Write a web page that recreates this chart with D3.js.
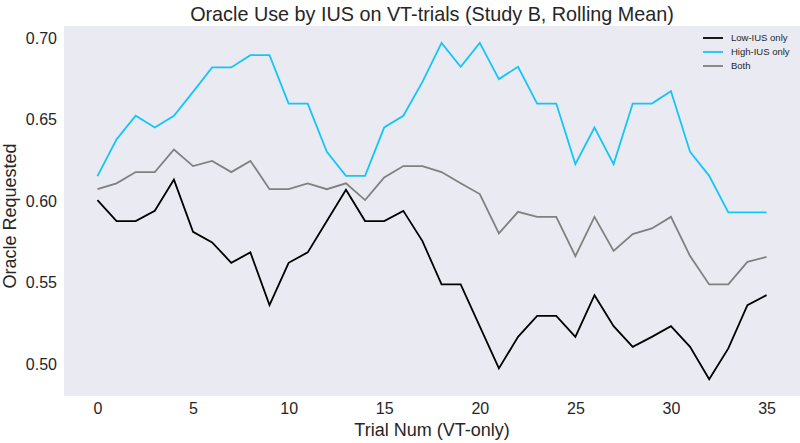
<!DOCTYPE html>
<html>
<head>
<meta charset="utf-8">
<script src="https://cdn.jsdelivr.net/npm/d3@7"></script>
<style>
    body { margin: 0; background: #fff; }
    svg { display: block; font-family: 'Liberation Sans', Arial, sans-serif; }
</style>
</head>
<body>
<div class="js-chart"></div>
<script>
'use strict';

// trial index 0..35
const trials = d3.range(0, 36);

const lowIUS = [0.6007, 0.5878, 0.5878, 0.5941, 0.6133, 0.5812, 0.5747, 0.5622, 0.5686, 0.5362,
    0.5622, 0.5686, 0.5878, 0.6070, 0.5878, 0.5878, 0.5941, 0.5755, 0.5489, 0.5489,
    0.5231, 0.4973, 0.5167, 0.5296, 0.5296, 0.5167, 0.5423, 0.5233, 0.5106, 0.5167,
    0.5233, 0.5106, 0.4907, 0.5096, 0.5362, 0.5423];

const highIUS = [0.6154, 0.6380, 0.6525, 0.6453, 0.6525, 0.6672, 0.6822, 0.6822, 0.6897, 0.6897,
    0.6600, 0.6600, 0.6303, 0.6156, 0.6156, 0.6453, 0.6525, 0.6733, 0.6973, 0.6826,
    0.6973, 0.6750, 0.6826, 0.6600, 0.6600, 0.6228, 0.6453, 0.6228, 0.6600, 0.6600,
    0.6676, 0.6303, 0.6156, 0.5931, 0.5931, 0.5931];

const both = [0.6074, 0.6110, 0.6179, 0.6179, 0.6318, 0.6216, 0.6248, 0.6179, 0.6248, 0.6074,
    0.6074, 0.6110, 0.6074, 0.6110, 0.6007, 0.6146, 0.6216, 0.6216, 0.6179, 0.6110,
    0.6044, 0.5802, 0.5935, 0.5904, 0.5904, 0.5663, 0.5904, 0.5695, 0.5798, 0.5833,
    0.5904, 0.5663, 0.5489, 0.5489, 0.5628, 0.5658];

const xTicks = [0, 5, 10, 15, 20, 25, 30, 35];
const yTicks = [0.50, 0.55, 0.60, 0.65, 0.70];

const series = [
    { name: 'Low-IUS only', values: lowIUS, color: '#000000' },
    { name: 'High-IUS only', values: highIUS, color: '#13c6fa' },
    { name: 'Both', values: both, color: '#808080' }
];

const width = 800;
const height = 443;
const margin = { top: 26, right: 0, bottom: 47, left: 64 };
const graphWidth = width - margin.left - margin.right;
const graphHeight = height - margin.top - margin.bottom;
const textColor = '#262626';

const svg = d3.select('.js-chart')
    .append('svg')
    .attr('width', width)
    .attr('height', height);

const graph = svg.append('g')
    .attr('transform', `translate(${margin.left}, ${margin.top})`);

// background
graph.append('rect')
    .attr('width', graphWidth)
    .attr('height', graphHeight)
    .attr('fill', '#eaeaf2');

// scales (matplotlib style 5% margins)
const allVals = lowIUS.concat(highIUS, both);
const yMin = d3.min(allVals), yMax = d3.max(allVals);
const yPad = (yMax - yMin) * 0.05;

const x = d3.scaleLinear().domain([-1.75, 36.75]).range([0, graphWidth]);
const y = d3.scaleLinear().domain([yMin - yPad, yMax + yPad]).range([graphHeight, 0]);

// axes
const xAxis = d3.axisBottom(x).tickValues(xTicks).tickSize(0).tickPadding(7).tickFormat(d3.format('d'));
const yAxis = d3.axisLeft(y).tickValues(yTicks).tickSize(0).tickPadding(7).tickFormat(d3.format('.2f'));

const xAxisGroup = graph.append('g')
    .attr('transform', `translate(0, ${graphHeight})`)
    .call(xAxis);
const yAxisGroup = graph.append('g').call(yAxis);

[xAxisGroup, yAxisGroup].forEach(g => {
    g.select('.domain').remove();
    g.selectAll('text')
        .attr('fill', textColor)
        .style('font-size', '16px');
});

// lines
const line = d3.line()
    .x((d, i) => x(trials[i]))
    .y(d => y(d));

graph.selectAll('path.series')
    .data(series)
    .enter()
    .append('path')
    .attr('class', 'series')
    .attr('d', d => line(d.values))
    .attr('fill', 'none')
    .attr('stroke', d => d.color)
    .attr('stroke-width', 1.8)
    .attr('stroke-linejoin', 'miter');

// legend
const legend = graph.append('g')
    .attr('transform', `translate(${703 - margin.left}, ${38 - margin.top})`);

const items = legend.selectAll('g')
    .data(series)
    .enter()
    .append('g')
    .attr('transform', (d, i) => `translate(0, ${i * 14})`);

items.append('line')
    .attr('x1', 0).attr('x2', 20)
    .attr('y1', 0).attr('y2', 0)
    .attr('stroke', d => d.color)
    .attr('stroke-width', 1.8);

items.append('text')
    .attr('x', 28)
    .attr('y', 0)
    .attr('dy', '0.35em')
    .attr('fill', textColor)
    .style('font-size', '9.5px')
    .text(d => d.name);

// title and labels
svg.append('text')
    .attr('x', margin.left + graphWidth / 2)
    .attr('y', 21)
    .attr('text-anchor', 'middle')
    .attr('fill', textColor)
    .style('font-size', '19.8px')
    .text('Oracle Use by IUS on VT-trials (Study B, Rolling Mean)');

svg.append('text')
    .attr('x', margin.left + graphWidth / 2)
    .attr('y', 436)
    .attr('text-anchor', 'middle')
    .attr('fill', textColor)
    .style('font-size', '18px')
    .text('Trial Num (VT-only)');

svg.append('text')
    .attr('transform', `translate(16, 216) rotate(-90)`)
    .attr('text-anchor', 'middle')
    .attr('fill', textColor)
    .style('font-size', '18px')
    .text('Oracle Requested');
</script>
</body>
</html>
